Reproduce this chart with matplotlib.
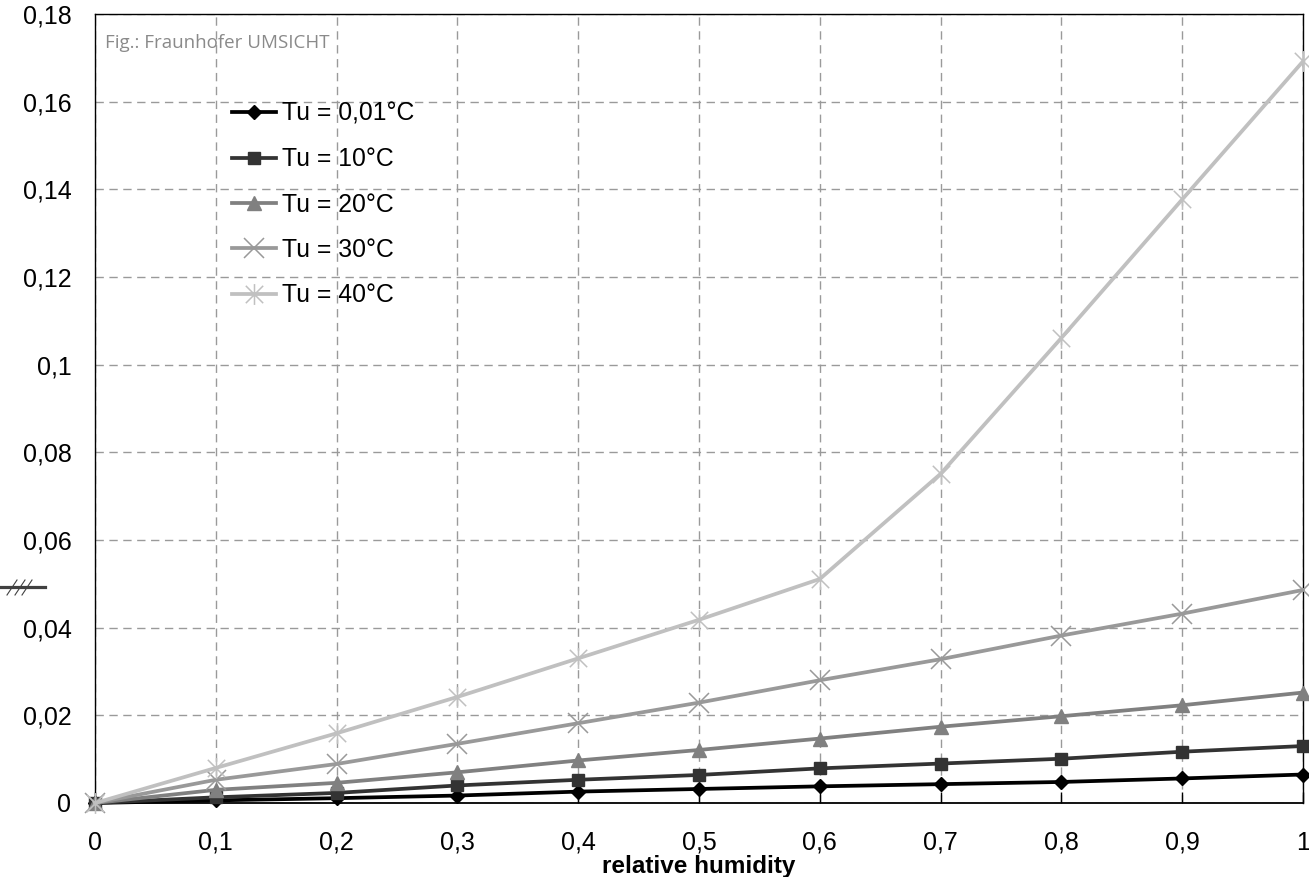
import matplotlib
matplotlib.use("Agg")
import matplotlib.pyplot as plt
from matplotlib.path import Path
from matplotlib.lines import Line2D
from matplotlib.ticker import FuncFormatter, MultipleLocator

plt.rcParams['font.family'] = ['Liberation Sans', 'DejaVu Sans']

# ---- data ----
rel_humidity = [0, 0.1, 0.2, 0.3, 0.4, 0.5, 0.6, 0.7, 0.8, 0.9, 1.0]
tu_001 = [0, 0.0006, 0.0011, 0.0017, 0.0026, 0.0032, 0.0038, 0.0043, 0.0048, 0.0056, 0.0065]
tu_10 = [0, 0.0013, 0.0023, 0.0040, 0.0053, 0.0064, 0.0079, 0.0090, 0.0101, 0.0117, 0.0130]
tu_20 = [0, 0.0030, 0.0046, 0.0070, 0.0097, 0.0121, 0.0147, 0.0174, 0.0198, 0.0223, 0.0252]
tu_30 = [0, 0.0053, 0.0089, 0.0135, 0.0182, 0.0229, 0.0280, 0.0328, 0.0382, 0.0432, 0.0486]
tu_40 = [0, 0.0080, 0.0159, 0.0242, 0.0330, 0.0418, 0.0511, 0.0751, 0.1061, 0.1377, 0.1692]
labels = ["Tu = 0,01°C", "Tu = 10°C", "Tu = 20°C", "Tu = 30°C", "Tu = 40°C"]
x_label = "relative humidity"
credit = "Fig.: Fraunhofer UMSICHT"

# asterisk marker: x with vertical stroke
ast = Path([(-0.5, -0.5), (0.5, 0.5), (-0.5, 0.5), (0.5, -0.5), (0, -0.6), (0, 0.6)],
           [Path.MOVETO, Path.LINETO, Path.MOVETO, Path.LINETO, Path.MOVETO, Path.LINETO])

styles = [
    dict(color='#000000', marker='D', ms=7, mfc='#000000', mec='#000000', mew=1),
    dict(color='#333333', marker='s', ms=9, mfc='#333333', mec='#333333', mew=1),
    dict(color='#808080', marker='^', ms=10.5, mfc='#808080', mec='#808080', mew=1),
    dict(color='#999999', marker='x', ms=14, mfc='none', mec='#999999', mew=1.1),
    dict(color='#c0c0c0', marker=ast, ms=15, mfc='none', mec='#c0c0c0', mew=1.1),
]
series = [tu_001, tu_10, tu_20, tu_30, tu_40]

fig = plt.figure(figsize=(13.09, 8.77), dpi=100)
ax = fig.add_axes([95/1309, 1-803/877, (1303-95)/1309, (803-14)/877])

for ys, lab, st in zip(series, labels, styles):
    ax.plot(rel_humidity, ys, lw=2.7, label=lab, clip_on=False, zorder=3, **st)

ax.set_xlim(0, 1)
ax.set_ylim(0, 0.18)
ax.xaxis.set_major_locator(MultipleLocator(0.1))
ax.yaxis.set_major_locator(MultipleLocator(0.02))
fmt = FuncFormatter(lambda v, p: ('%g' % round(v, 4)).replace('.', ','))
ax.xaxis.set_major_formatter(fmt)
ax.yaxis.set_major_formatter(fmt)
ax.tick_params(axis='x', direction='in', length=8, width=1, pad=20, labelsize=18, color='black')
ax.tick_params(axis='y', length=0, pad=17, labelsize=18)
ax.grid(True, color='#9a9a9a', lw=1.0, linestyle=(0, (6, 4)))
ax.set_axisbelow(True)
for s in ax.spines.values():
    s.set_color('black')
    s.set_linewidth(1.0)
ax.spines['bottom'].set_linewidth(1.3)

ax.set_xlabel(x_label, fontsize=17.5, fontweight='bold', labelpad=0)

leg = ax.legend(loc='upper left', bbox_to_anchor=(222/1309, 1-92/877), bbox_transform=fig.transFigure,
                frameon=False, fontsize=17.8, handlelength=1.78, handletextpad=0.25,
                labelspacing=0.865, borderaxespad=0, borderpad=0.4)

fig.text(105/1309, 1-43/877, credit, fontsize=13.5, color='#8a8a8a',
         family=['Open Sans', 'DejaVu Sans'], va='center', ha='left')

# left cut-off axis-break decoration
def px(x, y):
    return (x/1309, 1-y/877)
x0, y0 = px(0, 587)
x1, y1 = px(45, 587)
fig.add_artist(Line2D([x0, x1], [y0, y1], transform=fig.transFigure, color='#404040', lw=2.3))
for a in (7, 15, 22):
    p0 = px(a, 595)
    p1 = px(a + 10, 580)
    fig.add_artist(Line2D([p0[0], p1[0]], [p0[1], p1[1]], transform=fig.transFigure,
                          color='#404040', lw=0.8))

fig.savefig('out.png', dpi=100)
